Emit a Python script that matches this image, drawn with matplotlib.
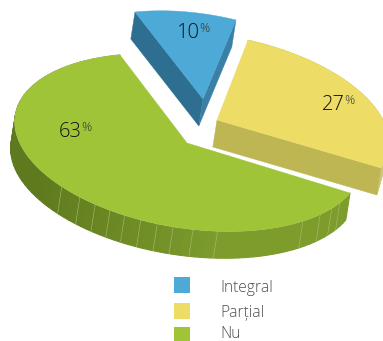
import numpy as np
import matplotlib
matplotlib.use("Agg")
import matplotlib.pyplot as plt
from matplotlib.patches import Polygon, Rectangle
from matplotlib.colors import to_rgb

categories = ["Integral", "Parțial", "Nu"]
shares = [10, 27, 63]

top_colors = ["#4DA9D6", "#EDDD66", "#9FC438"]
side_colors = ["#2D6E91", "#BEB553", "#6F8D25"]
text_color = "#4C4D4F"
E = np.array([-4.2, 27.0])

W, H = 383, 341
fig = plt.figure(figsize=(W / 100, H / 100), dpi=100)
ax = fig.add_axes([0, 0, 1, 1])
ax.set_xlim(0, W)
ax.set_ylim(H, 0)
ax.axis("off")

apex = [np.array([203.0, 99.0]), np.array([217.0, 120.0]), np.array([187.0, 143.0])]
start_vec = [np.array([-68.0, -87.0]), np.array([31.0, -80.0]), np.array([163.0, 50.0])]
end_vec = [np.array([33.0, -79.0]), np.array([164.0, 48.0]), np.array([-67.0, -88.0])]
bulge = [0.0, 0.0, 0.014]


def arc_points(i, n=200):
    sweep = np.radians(shares[i] * 3.6)
    u = start_vec[i]
    v = (end_vec[i] - np.cos(sweep) * u) / np.sin(sweep)
    t = np.linspace(0, sweep, n)
    r = 1 - bulge[i] * np.sin(np.pi * t / sweep)
    return apex[i] + (np.outer(np.cos(t), u) + np.outer(np.sin(t), v)) * r[:, None]


def poly(p, c, z, lw=0.3):
    ax.add_patch(Polygon(p, closed=True, fc=c, ec=c, lw=lw, zorder=z))


# blue wedge
pts = arc_points(0)
poly([pts[0], apex[0], apex[0] + E, pts[0] + E], side_colors[0], 2)
poly([pts[-1], apex[0], apex[0] + E, pts[-1] + E], "#3A7FA5", 2)
poly(np.vstack([apex[0], pts]), top_colors[0], 3)

# yellow wedge
pts = arc_points(1)
taper = np.maximum(0.5, 1 - 0.05 * np.arange(len(pts))[::-1])[:, None]
poly(np.vstack([pts, (pts + E * taper)[::-1]]), side_colors[1], 1.5)
poly([pts[-1], apex[1], apex[1] + E, pts[-1] + E], side_colors[1], 2)
poly(np.vstack([apex[1], pts]), top_colors[1], 3)
for k in (2, 5, 8):
    ax.plot(*np.array([pts[-1 - k], pts[-1 - k] + E * taper[-1 - k]]).T, color="#D9D290", lw=0.4, zorder=2.5)

# green wedge
pts = arc_points(2, 721)
dark, light = np.array(to_rgb("#5F7A1E")), np.array(to_rgb("#7D9C2C"))
step = 8
for a in range(0, len(pts) - 1, step):
    seg = pts[a:a + step + 1]
    f = np.clip((seg[:, 0].mean() - 40) / 180, 0, 1)
    c = dark + (light - dark) * f
    poly(np.vstack([seg, seg[::-1] + E]), c, 1, lw=0.8)
poly(np.vstack([apex[2], pts]), top_colors[2], 3)
ax.plot(pts[:, 0], pts[:, 1], color="#CFE090", lw=0.5, zorder=2.8)
lower = pts[pts[:, 1] > 143 + 5]
for sx in [62, 80, 95, 110, 125, 141, 157, 173, 193, 218, 303, 320, 332, 340]:
    p = lower[np.argmin(np.abs(lower[:, 0] - sx))]
    ax.plot(*np.array([p, p + E]).T, color="#A9BD75", lw=0.4, zorder=2)

# percent labels
lab_xy = [(176.5, 38), (321.5, 110), (59, 137)]
rend = fig.canvas.get_renderer()
for v, (x, y) in zip(shares, lab_xy):
    t1 = ax.text(x, y, str(v), fontsize=14.5, family="Open Sans", weight="light",
                 color="#111111", ha="left", va="baseline", zorder=5)
    bb = t1.get_window_extent(rend)
    ax.text(bb.x1 - 0.5, y - 6, "%", fontsize=9, family="Open Sans", weight="light",
            color="#333333", ha="left", va="baseline", zorder=5)

# legend
ly = [277, 303, 327]
base = [291.7, 317, 338]
for c, name, y, b in zip(top_colors, categories, ly, base):
    ax.add_patch(Rectangle((174, y), 16, 16, fc=c, ec="none", zorder=5))
    ax.text(220.5, b, name, fontsize=11.2, family="Open Sans", weight="light",
            color=text_color, ha="left", va="baseline", zorder=5)

fig.savefig("out.png", dpi=100)
